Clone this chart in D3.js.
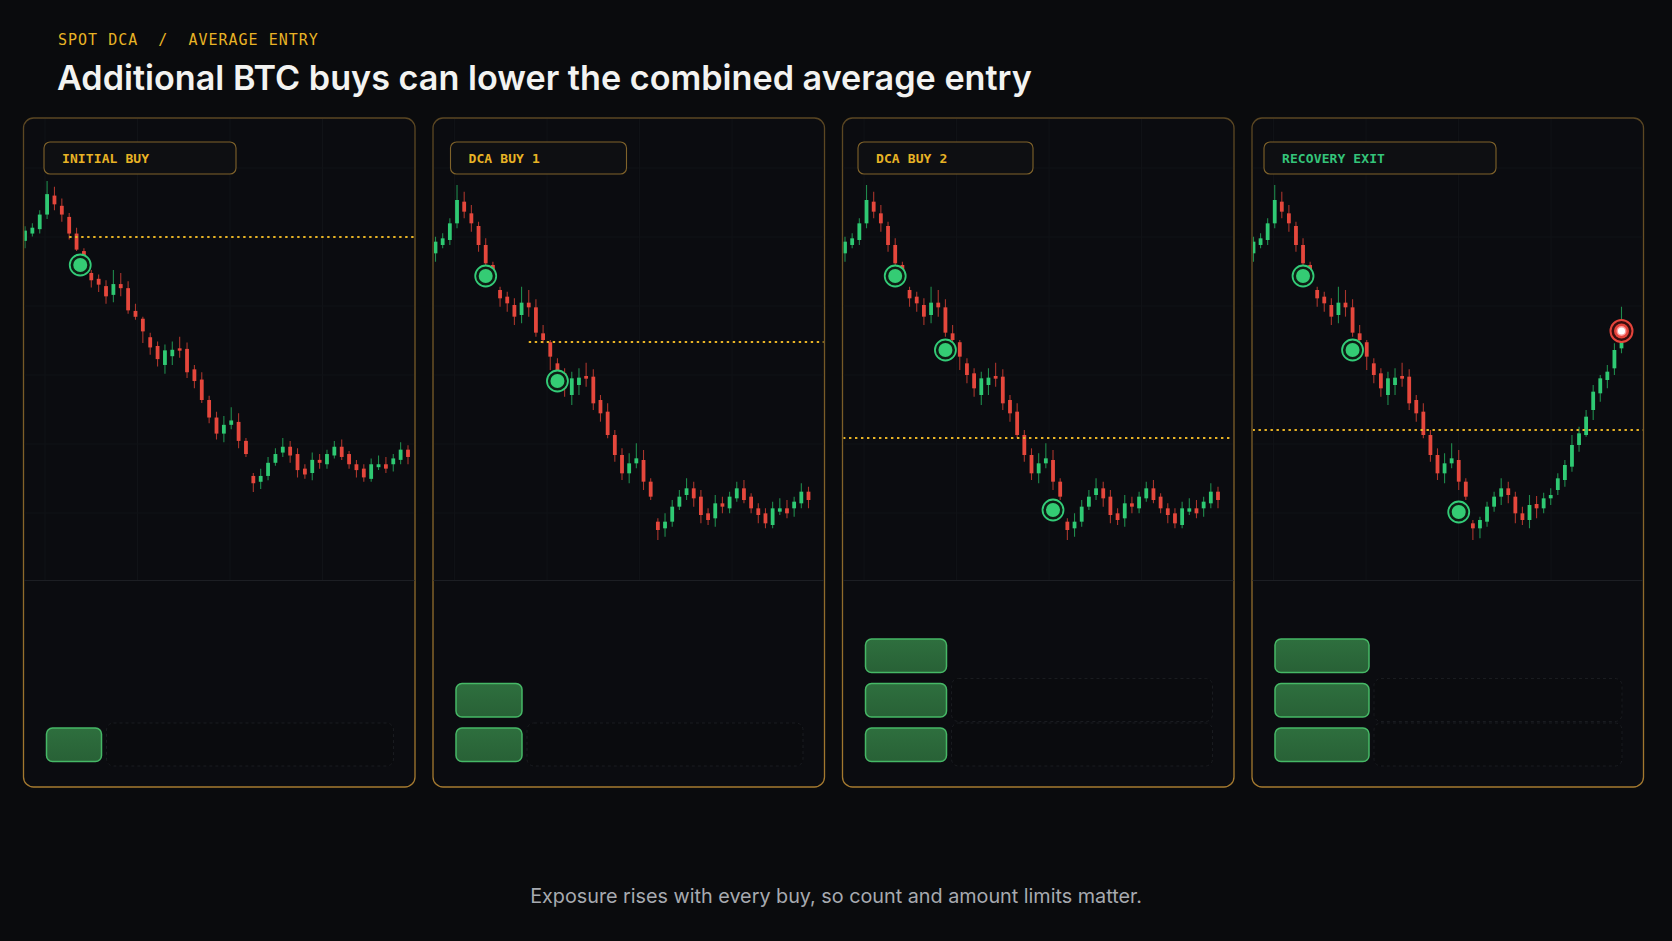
<!DOCTYPE html>
<html><head><meta charset="utf-8">
<script src="https://cdn.jsdelivr.net/npm/d3@7"></script>
<style>
html,body{margin:0;padding:0;background:#0a0b0d;}
svg{display:block;}
</style></head>
<body>
<svg id="c" width="1672" height="941"></svg>
<script>
// ---------------- DATA ----------------
const kicker = "SPOT DCA  /  AVERAGE ENTRY";
const title = "Additional BTC buys can lower the combined average entry";
const footnote = "Exposure rises with every buy, so count and amount limits matter.";
const panelLabels = ["INITIAL BUY", "DCA BUY 1", "DCA BUY 2", "RECOVERY EXIT"];

// BTC candles [open, high, low, close]
const candlesBase = [
  [68700,69450,68325,69225],[69075,69600,68925,69375],[69300,70275,69075,70050],[70050,71775,69825,71100],
  [71025,71475,70275,70575],[70500,70875,69675,70050],[69930,70125,68775,69075],[69075,69375,68175,68250],
  [68175,68325,67350,67650],[67050,67200,66300,66675],[66750,66975,66075,66450],[66375,66675,65475,65850],
  [65925,67200,65550,66480],[66480,67050,65850,66270],[66270,66630,64950,65130],[65100,65475,64650,64800],
  [64700,64800,63450,64050],[63750,63975,62850,63225],[63300,63525,62250,62625],[62325,63375,61875,63075],
  [62775,63525,62325,63105],[63180,63780,62700,63060],[63150,63480,61650,61950],[62100,62325,61125,61500],
  [61575,61950,60375,60525],[60525,60750,59325,59625],[59625,59925,58500,58800],[58800,59700,58350,59250],
  [59250,60150,59025,59475],[59400,59850,58050,58425],[58425,58575,57600,57750],[56625,56775,55800,56250],
  [56325,57000,55950,56625],[56625,57600,56400,57300],[57300,58050,57150,57750],[57825,58575,57600,58125],
  [58125,58425,57300,57675],[57750,58050,56550,56925],[57000,57225,56475,56700],[56775,57825,56400,57450],
  [57450,57750,57000,57300],[57225,57975,57000,57750],[57675,58425,57525,58125],[58125,58500,57450,57600],
  [57750,57900,57000,57225],[57225,57450,56550,56925],[57000,57225,56325,56550],[56475,57525,56325,57225],
  [57075,57675,56925,57225],[57225,57600,56775,57000],[57225,57750,56850,57525],[57450,58350,57225,57975],
  [57975,58200,57225,57600]
];
// recovery path used in the last panel from candle index 31 on
const recoveryFrom = 31;
const recoveryTail = [
  [56550,56700,55800,56325],[56325,56850,55875,56700],[56625,57525,56400,57300],[57300,57975,57075,57750],
  [57750,58575,57375,58125],[58125,58425,57450,57825],[57750,57975,56550,57000],[57000,57300,56475,56700],
  [56700,57825,56325,57375],[57420,57780,56775,57225],[57225,57930,57000,57675],[57675,58125,57375,57825],
  [58050,58800,57825,58575],[58500,59400,58200,59175],[59100,60525,58875,60075],[60075,60900,59775,60600],
  [60525,61650,60450,61350],[61650,62775,61200,62475],[62400,63225,62025,63075],[63000,63675,62625,63375],
  [63525,64650,63225,64350],[64425,66300,64200,65550]
];
// price range shown in each panel
const priceDomains = [[51280,75010],[54000,74790],[54000,74790],[54000,74790]];
// buys per panel: [candle index, price]
const buys = [
  [[7.5,67460]],
  [[7,67680],[17,62955]],
  [[7,67680],[14,64350],[29,57150]],
  [[7,67680],[14,64350],[29,57060]]
];
const exits = [[],[],[],[[52,65205]]];
const avgEntry = [68900, 64710, 60390, 60750];
const avgStartIndex = [6, 13, null, null];
const exposureUSD = [550, 660, 810, 940];

// ---------------- LAYOUT ----------------
const W = 1672, H = 941;
const panelTop = 118, divY = 580, panelBottom = 787;
const xRanges = [[2,385],[3,376],[3,376],[2,370]];
const labelBoxX = [21, 18, 16, 12.5];
const labelBoxW = [192,176,175,232];
const gold = "#e8b325", green = "#2fc973", red = "#e5473c";

const svg = d3.select("#c");
svg.append("rect").attr("width", W).attr("height", H).attr("fill", "#0a0b0d");
const defs = svg.append("defs");
const pg = defs.append("linearGradient").attr("id","pb").attr("x1",0).attr("y1",0).attr("x2",0).attr("y2",1);
pg.append("stop").attr("offset","0%").attr("stop-color","#5a4622");
pg.append("stop").attr("offset","100%").attr("stop-color","#a57a2f");
const bg = defs.append("linearGradient").attr("id","barg").attr("x1",0).attr("y1",0).attr("x2",0).attr("y2",1);
bg.append("stop").attr("offset","0%").attr("stop-color","#2e6f3e");
bg.append("stop").attr("offset","100%").attr("stop-color","#286136");

svg.append("text").attr("x", 58).attr("y", 45)
  .style("white-space","pre")
  .attr("font-family","'DejaVu Sans Mono', monospace").attr("font-size",15).attr("letter-spacing",1)
  .attr("fill", gold).text(kicker);

function fitText(sel, target) {
  const fs = +sel.attr("font-size");
  const len = sel.node().getComputedTextLength();
  if (len > 0) sel.attr("font-size", fs * target / len);
}
const tt = svg.append("text").attr("x", 57).attr("y", 90)
  .attr("font-family","Inter, sans-serif").attr("font-weight",600).attr("font-size",34)
  .attr("fill", "#f3f3f1").text(title);
fitText(tt, 975);
const ft = svg.append("text").attr("x", W/2).attr("y", 903).attr("text-anchor","middle")
  .attr("font-family","Inter, sans-serif").attr("font-size",20)
  .attr("fill", "#a7aab0").text(footnote);
fitText(ft, 612);

const px = d3.scaleBand().domain(d3.range(4)).range([23, 1644]).paddingInner(0.0415);
const pw = px.bandwidth();
const barX = d3.scaleLinear().domain([0, 1000]).range([0, 100]);

panelLabels.forEach((label, i) => {
  const gP = svg.append("g").attr("transform", `translate(${px(i)},0)`);
  gP.append("rect").attr("x",0.5).attr("y",panelTop).attr("width",pw-1).attr("height",panelBottom-panelTop)
    .attr("rx",10).attr("fill","#0b0c10").attr("stroke","url(#pb)").attr("stroke-width",1.3);

  const clipId = "clip"+i;
  defs.append("clipPath").attr("id",clipId).append("rect")
    .attr("x",1.5).attr("y",panelTop+1).attr("width",pw-3).attr("height",divY-panelTop-1).attr("rx",9);
  const chart = gP.append("g").attr("clip-path",`url(#${clipId})`);

  // grid
  chart.selectAll("line.v").data(d3.range(22, pw, 92.5)).join("line")
    .attr("x1",d=>d).attr("x2",d=>d).attr("y1",panelTop).attr("y2",divY)
    .attr("stroke","#111317").attr("stroke-width",1);
  chart.selectAll("line.h").data(d3.range(168, divY, 69)).join("line")
    .attr("x1",0).attr("x2",pw).attr("y1",d=>d).attr("y2",d=>d)
    .attr("stroke","#111317").attr("stroke-width",1);
  gP.append("line").attr("x1",1).attr("x2",pw-1).attr("y1",divY+0.5).attr("y2",divY+0.5)
    .attr("stroke","#1d1f24").attr("stroke-width",1.2);

  const data = i === 3 ? candlesBase.slice(0, recoveryFrom).concat(recoveryTail) : candlesBase;
  const xs = d3.scaleLinear().domain([0, data.length-1]).range(xRanges[i]);
  const ys = d3.scaleLinear().domain(priceDomains[i]).range([divY, panelTop]);

  chart.selectAll("line.wick").data(data).join("line")
    .attr("x1",(d,j)=>xs(j)).attr("x2",(d,j)=>xs(j))
    .attr("y1",d=>ys(d[1])).attr("y2",d=>ys(d[2]))
    .attr("stroke",d=>d[3]>=d[0] ? "#1f8a4c" : "#a9352c").attr("stroke-width",1.1);
  chart.selectAll("rect.body").data(data).join("rect")
    .attr("x",(d,j)=>xs(j)-1.9).attr("width",3.8)
    .attr("y",d=>ys(Math.max(d[0],d[3])))
    .attr("height",d=>Math.max(1.5, Math.abs(ys(d[0])-ys(d[3]))))
    .attr("fill",d=>d[3]>=d[0] ? green : red);

  // average entry line
  const ax = avgStartIndex[i] === null ? 1 : xs(avgStartIndex[i]);
  chart.append("line").attr("x1",ax).attr("x2",pw-1)
    .attr("y1",ys(avgEntry[i])).attr("y2",ys(avgEntry[i]))
    .attr("stroke",gold).attr("stroke-width",2).attr("stroke-dasharray","2.4,3.6");

  // buy markers
  buys[i].forEach(([k,p]) => {
    const m = gP.append("g").attr("transform",`translate(${xs(k)},${ys(p)})`);
    m.append("circle").attr("r",10.5).attr("fill","#0d1d14").attr("stroke","#33cc78").attr("stroke-width",1.8);
    m.append("circle").attr("r",7).attr("fill","#34cc74");
  });
  exits[i].forEach(([k,p]) => {
    const m = gP.append("g").attr("transform",`translate(${xs(k)},${ys(p)})`);
    m.append("circle").attr("r",11).attr("fill","#3a0d0e").attr("stroke","#e5443b").attr("stroke-width",2);
    m.append("circle").attr("r",7.5).attr("fill","#e5443b");
    m.append("circle").attr("r",5).attr("fill","#ff9c9c");
    m.append("circle").attr("r",3.6).attr("fill","#ffffff");
  });

  // label
  const lx = labelBoxX[i];
  gP.append("rect").attr("x",lx).attr("y",142).attr("width",labelBoxW[i]).attr("height",32).attr("rx",6)
    .attr("fill","#0e0f12").attr("stroke","#80632a").attr("stroke-width",1.1);
  gP.append("text").attr("x",lx+18).attr("y",163)
    .attr("font-family","'DejaVu Sans Mono', monospace").attr("font-weight","bold").attr("font-size",13)
    .attr("letter-spacing",0.1)
    .attr("fill", i === 3 ? "#34c47a" : gold).text(label);

  // exposure bars (one per buy) with faint dashed capacity slots
  const n = buys[i].length;
  const bw = barX(exposureUSD[i]);
  d3.range(Math.max(1, n-1)).forEach(k => {
    const y = 728 - k*44.5;
    gP.append("rect").attr("x",23.5+bw+5).attr("y",y-5).attr("width",pw-23.5-bw-5-22).attr("height",43)
      .attr("rx",7).attr("fill","#0a0b0e").attr("stroke","#1a1c20").attr("stroke-width",1).attr("stroke-dasharray","3,3");
  });
  gP.selectAll("rect.bar").data(d3.range(n)).join("rect")
    .attr("x",23.5).attr("y",k=>728 - k*44.5).attr("width",bw).attr("height",33.5).attr("rx",6)
    .attr("fill","url(#barg)").attr("stroke","#46b866").attr("stroke-width",1.5);
});
</script>
</body></html>
